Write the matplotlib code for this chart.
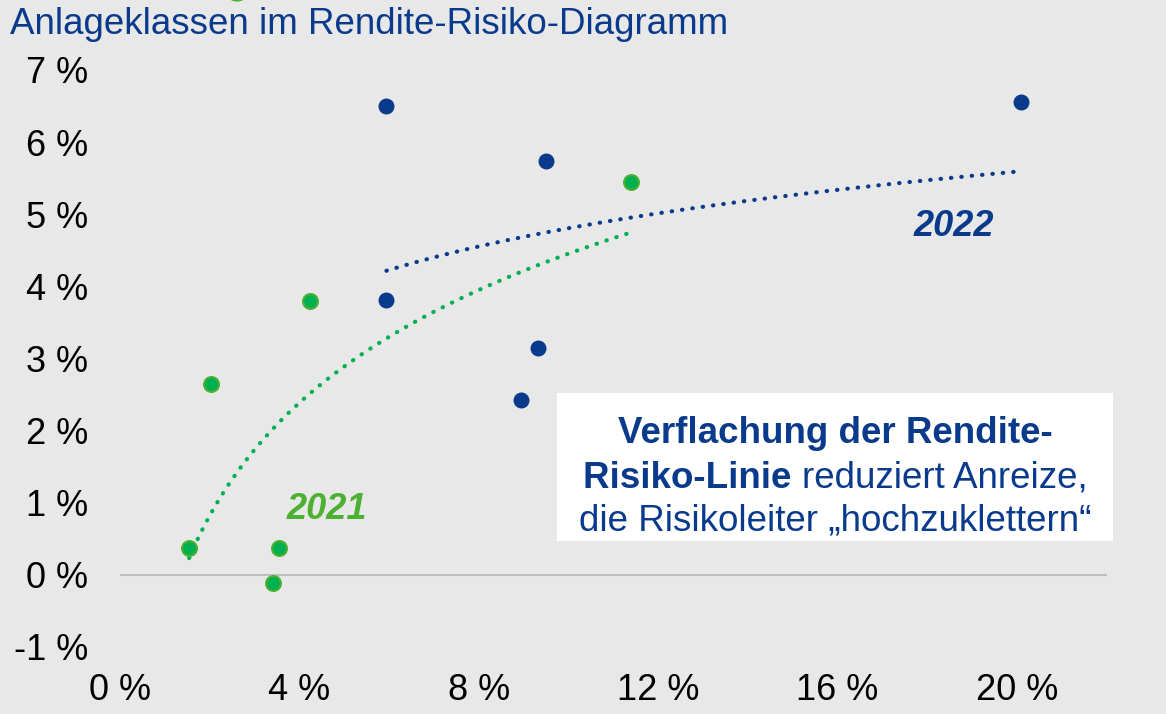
import numpy as np
import matplotlib.pyplot as plt

# Risiko (Volatilität, %) und Rendite (%) je Anlageklasse
risk_2021 = [11.4, 4.24, 2.03, 1.54, 3.55, 3.42]
ret_2021 = [5.44, 3.79, 2.64, 0.37, 0.37, -0.11]
risk_2022 = [5.94, 20.1, 9.5, 5.94, 9.33, 8.93]
ret_2022 = [6.50, 6.55, 5.74, 3.81, 3.15, 2.43]

x_ticks = [0, 4, 8, 12, 16, 20]
y_ticks = [-1, 0, 1, 2, 3, 4, 5, 6, 7]

BLUE = '#0a3a8c'
GREEN = '#00b050'
GREEN_EDGE = '#4cb030'
BG = '#e8e8e8'

plt.rcParams['font.family'] = ['Liberation Sans', 'DejaVu Sans']

fig = plt.figure(figsize=(11.66, 7.14), dpi=100, facecolor=BG)
ax = fig.add_axes([0.103, 0.094, 0.846, 0.808])
ax.set_facecolor(BG)

# logarithmische Trendlinien
def log_trend(x, y):
    x = np.asarray(x, float)
    a, b = np.polyfit(np.log(x), y, 1)
    xs = np.linspace(x.min(), x.max(), 200)
    return xs, a * np.log(xs) + b

xs, ys = log_trend(risk_2021, ret_2021)
ax.plot(xs, ys, color=GREEN, lw=3, linestyle=(0, (0.1, 2.4)), dash_capstyle='round', zorder=2)
xs, ys = log_trend(risk_2022, ret_2022)
ax.plot(xs, ys, color=BLUE, lw=3, linestyle=(0, (0.1, 2.4)), dash_capstyle='round', zorder=2)

ax.axhline(0, color='#bfbfbf', lw=1.5, zorder=1)

ax.scatter(risk_2021, ret_2021, s=115, color=GREEN, edgecolor=GREEN_EDGE, linewidth=1.5, zorder=3)
ax.scatter(risk_2022, ret_2022, s=110, color=BLUE, edgecolor=BLUE, linewidth=1, zorder=3)

ax.set_xlim(0, 22)
ax.set_ylim(-1, 7)
ax.set_xticks(x_ticks)
ax.set_xticklabels([f'{v} %' for v in x_ticks])
ax.set_yticks(y_ticks)
ax.set_yticklabels([f'{v} %' for v in y_ticks])
ax.tick_params(length=0, labelsize=26, colors='black')
ax.tick_params(axis='y', pad=23)
ax.tick_params(axis='x', pad=19)
for s in ax.spines.values():
    s.set_visible(False)

ax.text(18.6, 4.83, '2022', color=BLUE, fontsize=26, fontweight='bold', fontstyle='italic', ha='center', va='center')
ax.text(4.6, 0.9, '2021', color=GREEN_EDGE, fontsize=26, fontweight='bold', fontstyle='italic', ha='center', va='center')

# Textbox
box_x0, box_y0 = 557 / 1166, 1 - 541 / 714
box_w, box_h = (1113 - 557) / 1166, (541 - 393) / 714
fig.patches.append(plt.Rectangle((box_x0, box_y0), box_w, box_h, transform=fig.transFigure,
                                 facecolor='white', edgecolor='none', zorder=5))
cx = box_x0 + box_w / 2
FS = 26.5
fig.text(cx, 1 - 434 / 714, 'Verflachung der Rendite-', color=BLUE, fontsize=FS,
         fontweight='bold', ha='center', va='center', zorder=6)
# zweite Zeile: fett + normal, gemeinsam zentriert
r = fig.canvas.get_renderer()
tb = fig.text(0, 1 - 478 / 714, 'Risiko-Linie ', color=BLUE, fontsize=FS,
              fontweight='bold', ha='left', va='center', zorder=6)
tn = fig.text(0, 1 - 478 / 714, 'reduziert Anreize,', color=BLUE, fontsize=FS,
              ha='left', va='center', zorder=6)
wb = tb.get_window_extent(r).width / fig.bbox.width
wn = tn.get_window_extent(r).width / fig.bbox.width
x0 = cx - (wb + wn) / 2
tb.set_x(x0)
tn.set_x(x0 + wb)
fig.text(cx, 1 - 521 / 714, 'die Risikoleiter „hochzuklettern“', color=BLUE, fontsize=FS,
         ha='center', va='center', zorder=6)

fig.text(10 / 1166, 1 - 24 / 714, 'Anlageklassen im Rendite-Risiko-Diagramm', color=BLUE,
         fontsize=26.5, ha='left', va='center')

# angeschnittener Legendenpunkt am oberen Rand
fig.add_artist(plt.Circle((237 / 1166, 1 + 4 / 714), 8 / 1166, transform=fig.transFigure,
                          facecolor=GREEN, edgecolor=GREEN_EDGE, clip_on=False))

fig.savefig('out.png', dpi=100, facecolor=BG)
